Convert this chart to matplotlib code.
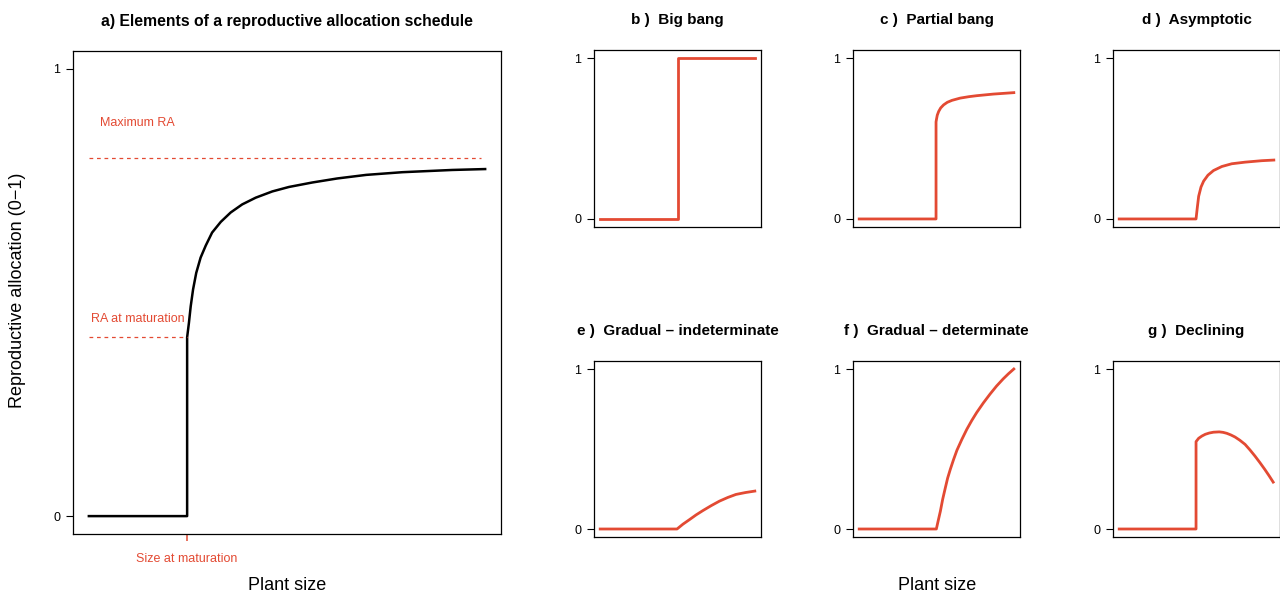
import matplotlib.pyplot as plt

plt.rcParams['font.family'] = ['Liberation Sans', 'DejaVu Sans']
narrow = ['Liberation Sans Narrow', 'Liberation Sans', 'DejaVu Sans']

red = '#E34A33'

# Panel a: elements of an RA schedule
a_x = [0, 0.248, 0.248, 0.2525, 0.257, 0.263, 0.271, 0.282, 0.295, 0.311,
       0.333, 0.358, 0.387, 0.421, 0.463, 0.505, 0.564, 0.627, 0.700,
       0.791, 0.917, 1.0]
a_y = [0, 0, 0.40, 0.432, 0.469, 0.507, 0.544, 0.578, 0.605, 0.634,
       0.658, 0.679, 0.697, 0.712, 0.726, 0.736, 0.746, 0.755, 0.763,
       0.769, 0.774, 0.776]
max_ra = 0.80
ra_mat = 0.40
size_mat = 0.248

# Small panels
b_x = [0, 0.5, 0.5, 1.0]
b_y = [0, 0, 1.0, 1.0]

c_x = [0, 0.497, 0.497, 0.500, 0.505, 0.514, 0.527, 0.546, 0.570, 0.600,
       0.653, 0.710, 0.760, 0.867, 1.0]
c_y = [0, 0, 0.603, 0.620, 0.645, 0.668, 0.690, 0.709, 0.725, 0.737,
       0.751, 0.760, 0.766, 0.776, 0.785]

d_x = [0, 0.497, 0.505, 0.514, 0.529, 0.546, 0.574, 0.610, 0.664, 0.728,
       0.814, 0.921, 1.0]
d_y = [0, 0, 0.069, 0.141, 0.198, 0.235, 0.272, 0.301, 0.326, 0.343,
       0.353, 0.362, 0.366]

e_x = [0, 0.497, 0.535, 0.578, 0.620, 0.664, 0.718, 0.771, 0.825, 0.878,
       0.940, 1.0]
e_y = [0, 0, 0.030, 0.059, 0.088, 0.115, 0.146, 0.174, 0.197, 0.216,
       0.228, 0.237]

f_x = [0, 0.499, 0.512, 0.525, 0.540, 0.557, 0.572, 0.589, 0.610, 0.632,
       0.664, 0.696, 0.728, 0.760, 0.803, 0.846, 0.888, 0.931, 0.965, 1.0]
f_y = [0, 0, 0.056, 0.111, 0.186, 0.257, 0.318, 0.372, 0.433, 0.492,
       0.560, 0.623, 0.678, 0.728, 0.788, 0.843, 0.893, 0.938, 0.970, 1.0]

g_x = [0, 0.497, 0.497, 0.514, 0.535, 0.557, 0.583, 0.610, 0.647, 0.672,
       0.696, 0.722, 0.749, 0.780, 0.814, 0.846, 0.878, 0.910, 0.942,
       0.970, 0.996]
g_y = [0, 0, 0.546, 0.567, 0.581, 0.592, 0.600, 0.605, 0.607, 0.604,
       0.598, 0.588, 0.575, 0.555, 0.529, 0.494, 0.456, 0.415, 0.372,
       0.332, 0.293]

small_titles = ['b )  Big bang', 'c )  Partial bang', 'd )  Asymptotic',
                'e )  Gradual \u2013 indeterminate', 'f )  Gradual \u2013 determinate',
                'g )  Declining']
small_data = [(b_x, b_y), (c_x, c_y), (d_x, d_y), (e_x, e_y), (f_x, f_y), (g_x, g_y)]

W, H = 1280, 594
fig = plt.figure(figsize=(12.8, 5.94), dpi=100)


def px_axes(l, t, r, b):
    return fig.add_axes([l / W, 1 - b / H, (r - l) / W, (b - t) / H])


def style(ax, fs, fam):
    ax.set_xlim(-0.04, 1.04)
    ax.set_ylim(-0.05, 1.05)
    ax.set_yticks([0, 1])
    ax.set_yticklabels(['0', '1'], fontsize=fs, family=fam)
    ax.tick_params(axis='y', direction='out', length=5, width=0.8, pad=4)
    for s in ax.spines.values():
        s.set_linewidth(0.9)


# Panel a
ax = px_axes(73, 51, 501, 534)
style(ax, 9, ['Liberation Sans', 'DejaVu Sans'])
ax.set_ylim(-0.04, 1.04)
ax.plot(a_x, a_y, color='black', lw=1.8, solid_joinstyle='round')
ax.plot([0, 0.99], [max_ra, max_ra], color=red, lw=0.9, dashes=(3, 3))
ax.plot([0, size_mat], [ra_mat, ra_mat], color=red, lw=0.9, dashes=(3, 3))
ax.text(0.028, 0.879, 'Maximum RA', color=red, fontsize=9, va='center')
ax.text(0.005, 0.44, 'RA at maturation', color=red, fontsize=9, va='center')
ax.set_xticks([size_mat])
ax.set_xticklabels(['Size at maturation'], color=red, fontsize=9)
ax.tick_params(axis='x', direction='out', length=5, width=1.1, color=red, pad=9)
ax.annotate('a) Elements of a reproductive allocation schedule', xy=(0.5, 1),
            xycoords='axes fraction', xytext=(0, 21.5), textcoords='offset points',
            ha='center', va='center', fontsize=11.3, fontweight='bold')

# Small panels
lefts = [594, 853, 1113]
rows = [(50, 227), (361, 537)]
for i, (title, (xs, ys)) in enumerate(zip(small_titles, small_data)):
    t, b = rows[i // 3]
    l = lefts[i % 3]
    ax = px_axes(l, t, l + 167, b)
    style(ax, 9, narrow)
    ax.set_xticks([])
    ax.plot(xs, ys, color=red, lw=2.0, solid_joinstyle='round')
    ax.annotate(title, xy=(0.5, 1), xycoords='axes fraction', xytext=(0, 21.5),
                textcoords='offset points', ha='center', va='center',
                fontsize=11, fontweight='bold', family=narrow)

fig.text(18 / W, 1 - 290 / H, 'Reproductive allocation (0\u22121)', rotation=90,
         ha='center', va='center', fontsize=13)
fig.text(287 / W, 1 - 585 / H, 'Plant size', ha='center', va='center', fontsize=13)
fig.text(937 / W, 1 - 585 / H, 'Plant size', ha='center', va='center', fontsize=13)

fig.savefig('out.png', dpi=100)
